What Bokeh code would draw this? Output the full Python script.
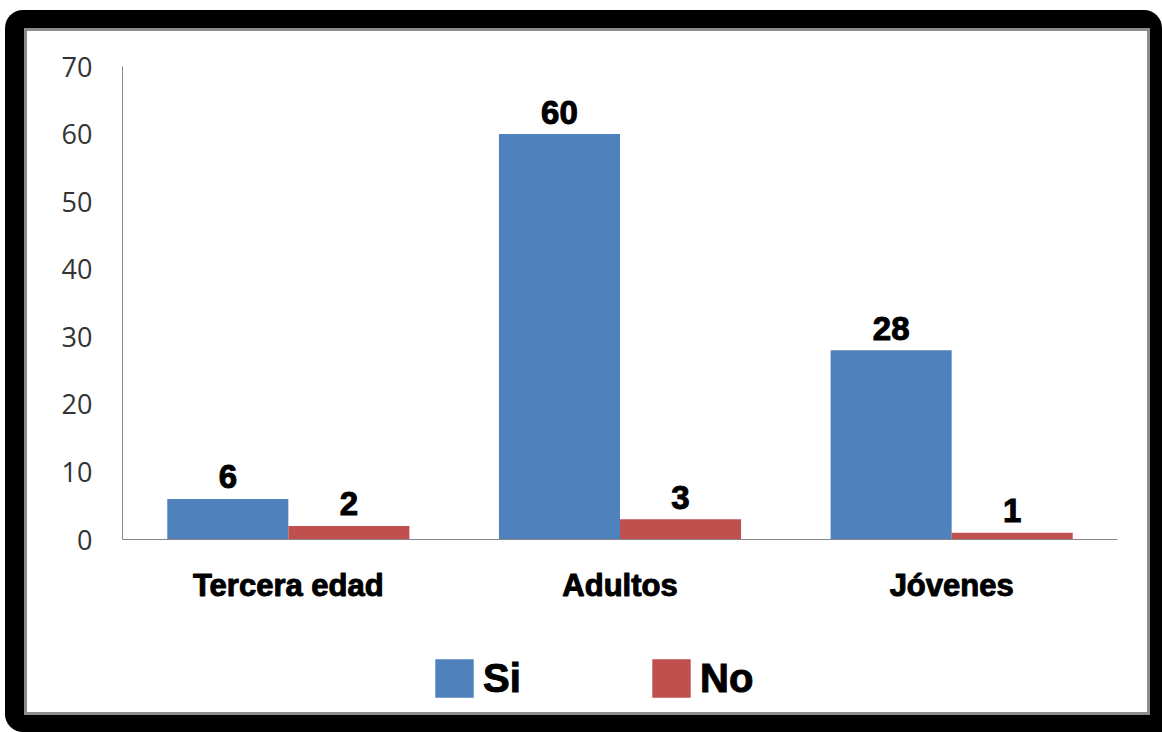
from bokeh.plotting import figure
from bokeh.models import ColumnDataSource, FactorRange, Range1d, FixedTicker, Legend, LegendItem
from bokeh.transform import dodge
from bokeh.layouts import column
from bokeh.embed import file_html
from bokeh.resources import INLINE
from bokeh.core.properties import value

# Respuestas por grupo de edad
grupos = ["Tercera edad", "Adultos", "Jóvenes"]
si = [6, 60, 28]
no = [2, 3, 1]
y_ticks = [0, 10, 20, 30, 40, 50, 60, 70]
series = ["Si", "No"]

AZUL = "#4F81BD"
ROJO = "#C0504D"
colores = [AZUL, ROJO]
BOLD_FONT = "Liberation Sans"

src = ColumnDataSource(dict(
    grupo=grupos,
    si=si,
    no=no,
    si_txt=[str(v) for v in si],
    no_txt=[str(v) for v in no],
))

p = figure(
    width=1120, height=611,
    x_range=FactorRange(*grupos, range_padding=0),
    y_range=Range1d(0, 70),
    output_backend="svg", toolbar_location=None,
    min_border_left=95, min_border_top=35, min_border_right=30, min_border_bottom=103,
    border_fill_color="white", background_fill_color="white",
    outline_line_color=None,
)

bar_w = 0.365
off = bar_w / 2
p.vbar(x=dodge("grupo", -off, range=p.x_range), top="si", width=bar_w,
       source=src, fill_color=AZUL, line_color=None)
p.vbar(x=dodge("grupo", off, range=p.x_range), top="no", width=bar_w,
       source=src, fill_color=ROJO, line_color=None)

label_kw = dict(text_align="center", text_baseline="alphabetic", y_offset=-22,
                text_font=value(BOLD_FONT), text_font_style="bold",
                text_font_size="33px", text_color="black", text_outline_color="black")
p.text(x=dodge("grupo", -off, range=p.x_range), y="si", text="si_txt", source=src, **label_kw)
p.text(x=dodge("grupo", off, range=p.x_range), y="no", text="no_txt", source=src, **label_kw)

# Ejes
p.xgrid.grid_line_color = None
p.ygrid.grid_line_color = None

p.yaxis.ticker = FixedTicker(ticks=y_ticks)
p.yaxis.axis_line_color = "#868686"
p.yaxis.major_tick_line_color = None
p.yaxis.minor_tick_line_color = None
p.yaxis.major_tick_out = 0
p.yaxis.major_tick_in = 0
p.yaxis.major_label_standoff = 30
p.yaxis.major_label_text_font = "Open Sans"
p.yaxis.major_label_text_font_size = "27px"
p.yaxis.major_label_text_color = "#333333"

p.xaxis.axis_line_color = "#868686"
p.xaxis.major_tick_line_color = None
p.xaxis.major_tick_out = 0
p.xaxis.major_tick_in = 0
p.xaxis.major_label_standoff = 28
p.xaxis.major_label_text_font = BOLD_FONT
p.xaxis.major_label_text_font_style = "bold"
p.xaxis.major_label_text_font_size = "31px"
p.xaxis.major_label_text_color = "black"
p.xaxis.major_label_text_outline_color = "black"

# Leyenda en una franja propia bajo el gráfico
leg = figure(
    width=1120, height=70,
    x_range=Range1d(0, 1), y_range=Range1d(0, 1),
    output_backend="svg", toolbar_location=None,
    x_axis_location=None, y_axis_location=None,
    min_border=0, border_fill_color="white", background_fill_color="white",
    outline_line_color=None,
)
leg.xgrid.grid_line_color = None
leg.ygrid.grid_line_color = None
items = []
for nombre, color in zip(series, colores):
    # barra de ancho cero: solo aporta el color de la clave
    r = leg.vbar(x=[0.5], top=[1], width=0, fill_color=color, line_color=None)
    items.append(LegendItem(label=nombre, renderers=[r]))

legend = Legend(
    items=items,
    location=(308, 10), orientation="horizontal",
    padding=0, margin=0, spacing=44,
    glyph_width=48, glyph_height=48, label_standoff=5, label_width=120,
    label_text_font=BOLD_FONT, label_text_font_style="bold", label_text_font_size="40px",
    label_text_color="black", label_text_outline_color="black",
    border_line_color=None, background_fill_alpha=0,
)
leg.add_layout(legend, "center")

inner = column(p, leg, spacing=0, styles={"border": "3px solid #8c8c8c", "background": "white"})
page = column(inner, styles={
    "background": "black",
    "margin-left": "5px", "margin-top": "10px",
    "padding": "18px 12px 17px 19px",
    "border-radius": "18px 18px 0 18px",
})

open("out.html", "w").write(file_html(page, INLINE))
